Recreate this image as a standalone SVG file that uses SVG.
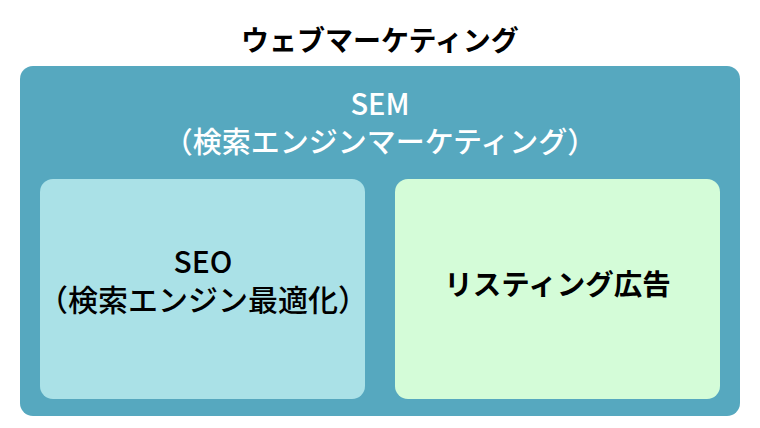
<svg xmlns="http://www.w3.org/2000/svg" width="760" height="428" viewBox="0 0 760 428">
<style>
text{font-family:"Noto Sans CJK JP","Noto Sans",sans-serif;text-anchor:middle}
.t{font-size:28px;font-weight:700;fill:#000}
.w{font-size:29px;font-weight:500;fill:#fff}
.k{font-size:30px;font-weight:500;fill:#000}
.l{font-size:28.5px;font-weight:700;fill:#000}
</style>
<rect width="760" height="428" fill="#fff"/>
<g id="title"><text class="t" x="380" y="51">ウェブマーケティング</text></g>
<g id="sem">
<rect x="20" y="66" width="720" height="350" rx="13" fill="#56a8bf"/>
<text class="w" x="380" y="115" font-size="31">SEM</text>
<text class="w" x="380" y="153">（検索エンジンマーケティング）</text>
</g>
<g id="seo">
<rect x="40" y="179" width="325" height="220" rx="13" fill="#aae1e7"/>
<text class="k" x="203" y="273">SEO</text>
<text class="k" x="203" y="311">（検索エンジン最適化）</text>
</g>
<g id="listing">
<rect x="395" y="179" width="325" height="220" rx="13" fill="#d4fcd8"/>
<text class="l" x="557.5" y="295">リスティング広告</text>
</g>
<g id="connectors"/>
</svg>
